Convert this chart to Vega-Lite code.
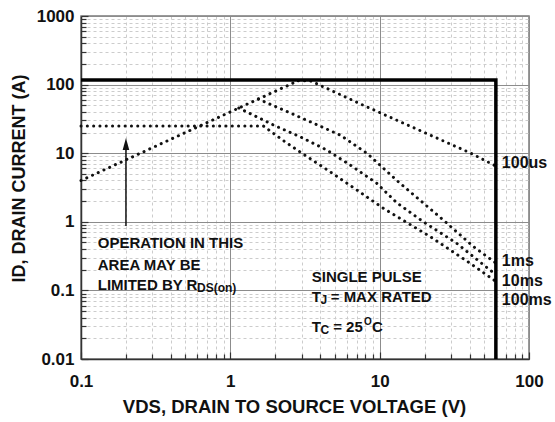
{
  "$schema": "https://vega.github.io/schema/vega-lite/v6.json",
  "width": 448,
  "height": 343,
  "autosize": {"type": "none"},
  "padding": {"left": 81, "top": 16, "right": 26, "bottom": 63},
  "background": "white",
  "config": {
    "view": {"stroke": "#7a7a7a", "strokeWidth": 1.5},
    "font": "Liberation Sans",
    "text": {"font": "Liberation Sans", "fontWeight": "bold", "color": "#111111"}
  },
  "datasets": {
    "curves": [
      {"series": "rds", "v": 0.1, "i": 4},
      {"series": "rds", "v": 2.85, "i": 114},
      {"series": "100us", "v": 2.85, "i": 114},
      {"series": "100us", "v": 3.42, "i": 114},
      {"series": "100us", "v": 7.7, "i": 50.5},
      {"series": "100us", "v": 13.7, "i": 28.8},
      {"series": "100us", "v": 40.4, "i": 10.1},
      {"series": "100us", "v": 60, "i": 6.5},
      {"series": "1ms", "v": 1.54, "i": 61.6},
      {"series": "1ms", "v": 3.42, "i": 28.8},
      {"series": "1ms", "v": 5.43, "i": 18.4},
      {"series": "1ms", "v": 8.2, "i": 10},
      {"series": "1ms", "v": 13.7, "i": 3.64},
      {"series": "1ms", "v": 26.7, "i": 1.06},
      {"series": "1ms", "v": 42.5, "i": 0.434},
      {"series": "1ms", "v": 60, "i": 0.25},
      {"series": "10ms", "v": 1.14, "i": 45.6},
      {"series": "10ms", "v": 1.94, "i": 25.8},
      {"series": "10ms", "v": 2.93, "i": 17.4},
      {"series": "10ms", "v": 4.43, "i": 11.1},
      {"series": "10ms", "v": 6.34, "i": 6.73},
      {"series": "10ms", "v": 9.57, "i": 3.64},
      {"series": "10ms", "v": 13, "i": 1.9},
      {"series": "10ms", "v": 19.6, "i": 1.0},
      {"series": "10ms", "v": 32.8, "i": 0.486},
      {"series": "10ms", "v": 54.8, "i": 0.198},
      {"series": "10ms", "v": 60, "i": 0.17},
      {"series": "100ms", "v": 0.1, "i": 25},
      {"series": "100ms", "v": 1.66, "i": 25},
      {"series": "100ms", "v": 2.32, "i": 14.7},
      {"series": "100ms", "v": 3.08, "i": 9.7},
      {"series": "100ms", "v": 4.65, "i": 5.37},
      {"series": "100ms", "v": 7.03, "i": 2.91},
      {"series": "100ms", "v": 10.6, "i": 1.57},
      {"series": "100ms", "v": 21.8, "i": 0.607},
      {"series": "100ms", "v": 40.4, "i": 0.248},
      {"series": "100ms", "v": 60, "i": 0.135}
    ],
    "limit": [
      {"v": 0.1, "i": 117},
      {"v": 60, "i": 117},
      {"v": 60, "i": 0.01}
    ],
    "arrow": [{"v": 0.2, "i": 0.87, "i2": 13.6}],
    "notes": [
      {"v": 0.1294, "i": 0.491, "t": "OPERATION IN THIS"},
      {"v": 0.1294, "i": 0.234, "t": "AREA MAY BE"},
      {"v": 0.1294, "i": 0.12, "t": "LIMITED BY R"},
      {"v": 3.51, "i": 0.157, "t": "SINGLE PULSE"},
      {"v": 3.51, "i": 0.0802, "t": "T"},
      {"v": 4.7, "i": 0.0802, "t": "= MAX RATED"},
      {"v": 3.51, "i": 0.0292, "t": "T"},
      {"v": 4.88, "i": 0.0292, "t": "= 25"},
      {"v": 8.9, "i": 0.0292, "t": "C"}
    ],
    "subs": [
      {"v": 0.598, "i": 0.107, "t": "DS(on)"},
      {"v": 4.02, "i": 0.0724, "t": "J"},
      {"v": 4.02, "i": 0.0265, "t": "C"}
    ],
    "sups": [
      {"v": 7.86, "i": 0.0346, "t": "O"}
    ],
    "labels": [
      {"v": 65.8, "i": 7.19, "t": "100us"},
      {"v": 65.8, "i": 0.268, "t": "1ms"},
      {"v": 65.8, "i": 0.137, "t": "10ms"},
      {"v": 65.8, "i": 0.0724, "t": "100ms"}
    ]
  },
  "encoding": {
    "x": {
      "field": "v",
      "type": "quantitative",
      "scale": {"type": "log", "domain": [0.1, 100], "nice": false},
      "axis": {
        "title": "VDS, DRAIN TO SOURCE VOLTAGE (V)",
        "values": [0.1, 0.2, 0.3, 0.4, 0.5, 0.6, 0.7, 0.8, 0.9, 1, 2, 3, 4, 5, 6, 7, 8, 9, 10, 20, 30, 40, 50, 60, 70, 80, 90, 100],
        "labelExpr": "abs(log(datum.value)/LN10 - round(log(datum.value)/LN10)) < 0.001 ? format(datum.value, '~g') : ''",
        "labelOverlap": false,
        "labelFlush": false,
        "labelBound": false,
        "labelFont": "Liberation Sans",
        "labelFontWeight": "bold",
        "labelFontSize": 17,
        "labelColor": "#111111",
        "labelPadding": 21,
        "domainColor": "#333333",
        "domainWidth": 1.5,
        "tickColor": "#333333",
        "tickWidth": 1.2,
        "tickSize": {"condition": {"test": "abs(log(datum.value)/LN10 - round(log(datum.value)/LN10)) < 0.001", "value": -7}, "value": -5},
        "grid": true,
        "gridColor": {"condition": {"test": "abs(log(datum.value)/LN10 - round(log(datum.value)/LN10)) < 0.001", "value": "#8c8c8c"}, "value": "#cccccc"},
        "gridDash": {"condition": {"test": "abs(log(datum.value)/LN10 - round(log(datum.value)/LN10)) < 0.001", "value": []}, "value": [3, 3]},
        "titleFont": "Liberation Sans",
        "titleFontWeight": "bold",
        "titleFontSize": 18.5,
        "titleColor": "#111111",
        "titlePadding": 6,
        "titleX": 213
      }
    },
    "y": {
      "field": "i",
      "type": "quantitative",
      "scale": {"type": "log", "domain": [0.01, 1000], "nice": false},
      "axis": {
        "title": "ID, DRAIN CURRENT (A)",
        "values": [0.01, 0.02, 0.03, 0.04, 0.05, 0.06, 0.07, 0.08, 0.09, 0.1, 0.2, 0.3, 0.4, 0.5, 0.6, 0.7, 0.8, 0.9, 1, 2, 3, 4, 5, 6, 7, 8, 9, 10, 20, 30, 40, 50, 60, 70, 80, 90, 100, 200, 300, 400, 500, 600, 700, 800, 900, 1000],
        "labelExpr": "abs(log(datum.value)/LN10 - round(log(datum.value)/LN10)) < 0.001 ? format(datum.value, '~g') : ''",
        "labelOverlap": false,
        "labelFlush": false,
        "labelBound": false,
        "labelFont": "Liberation Sans",
        "labelFontWeight": "bold",
        "labelFontSize": 17,
        "labelColor": "#111111",
        "labelPadding": 14,
        "domainColor": "#333333",
        "domainWidth": 1.5,
        "tickColor": "#333333",
        "tickWidth": 1.2,
        "tickSize": {"condition": {"test": "abs(log(datum.value)/LN10 - round(log(datum.value)/LN10)) < 0.001", "value": -7}, "value": -5},
        "grid": true,
        "gridColor": {"condition": {"test": "abs(log(datum.value)/LN10 - round(log(datum.value)/LN10)) < 0.001", "value": "#8c8c8c"}, "value": "#cccccc"},
        "gridDash": {"condition": {"test": "abs(log(datum.value)/LN10 - round(log(datum.value)/LN10)) < 0.001", "value": []}, "value": [3, 3]},
        "titleFont": "Liberation Sans",
        "titleFontWeight": "bold",
        "titleFontSize": 18,
        "titleColor": "#111111",
        "titlePadding": 8,
        "titleY": 162
      }
    }
  },
  "layer": [
    {
      "data": {"name": "curves"},
      "mark": {"type": "line", "color": "#111111", "strokeWidth": 3, "strokeDash": [0.1, 6.2], "strokeCap": "round"},
      "encoding": {"detail": {"field": "series"}, "order": {"value": null}}
    },
    {
      "data": {"name": "limit"},
      "mark": {"type": "line", "color": "#000000", "strokeWidth": 3.5},
      "encoding": {"order": {"value": null}}
    },
    {
      "data": {"name": "arrow"},
      "mark": {"type": "rule", "color": "#111111", "strokeWidth": 1.5},
      "encoding": {"y2": {"field": "i2"}}
    },
    {
      "data": {"name": "arrow"},
      "mark": {"type": "point", "shape": "M0,-1L0.55,1L-0.55,1Z", "filled": true, "color": "#111111", "size": 144, "opacity": 1},
      "encoding": {"y": {"field": "i2", "type": "quantitative"}}
    },
    {
      "data": {"name": "notes"},
      "mark": {"type": "text", "align": "left", "baseline": "middle", "fontSize": 15, "fontWeight": "bold"},
      "encoding": {"text": {"field": "t"}}
    },
    {
      "data": {"name": "subs"},
      "mark": {"type": "text", "align": "left", "baseline": "middle", "fontSize": 12, "fontWeight": "bold"},
      "encoding": {"text": {"field": "t"}}
    },
    {
      "data": {"name": "sups"},
      "mark": {"type": "text", "align": "left", "baseline": "middle", "fontSize": 10, "fontWeight": "bold"},
      "encoding": {"text": {"field": "t"}}
    },
    {
      "data": {"name": "labels"},
      "mark": {"type": "text", "align": "left", "baseline": "middle", "fontSize": 16, "fontWeight": "bold"},
      "encoding": {"text": {"field": "t"}}
    }
  ]
}
